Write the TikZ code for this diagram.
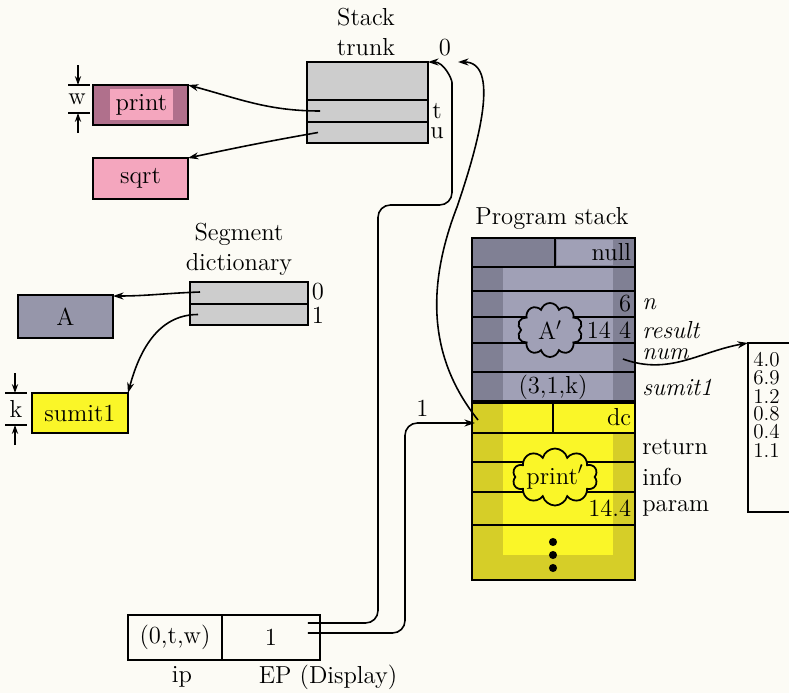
\documentclass[tikz,border=0pt]{standalone}
\usepackage{tikz}
\usetikzlibrary{arrows.meta,shapes.symbols}
\definecolor{Paper}{RGB}{252,251,245}
\definecolor{TrunkGray}{RGB}{205,205,205}
\definecolor{PinkLight}{RGB}{244,166,190}
\definecolor{PinkDark}{RGB}{176,112,140}
\definecolor{SlateGray}{RGB}{150,150,170}
\definecolor{StackDark}{RGB}{128,128,148}
\definecolor{StackLight}{RGB}{160,160,182}
\definecolor{YellowDark}{RGB}{214,206,40}
\definecolor{YellowLight}{RGB}{250,246,40}

\begin{document}
\begin{tikzpicture}[x=0.02cm, y=-0.02cm,
      every node/.style={font=\fontsize{14}{17}\selectfont, align=center},
      cell/.style={rectangle, draw, line width=1pt, inner sep=0pt, outer sep=0pt},
      pointer/.style={-{Stealth[length=6pt,width=4pt]}, line width=0.9pt},
      dimarrow/.style={-{Stealth[length=5pt,width=3.5pt]}, line width=0.7pt},
      blob/.style={cloud, cloud puffs=10, cloud ignores aspect, draw, line width=1pt, inner sep=0pt},
      side/.style={anchor=west, inner sep=1pt},
      inval/.style={anchor=east, inner sep=2pt},
      slot/.style={inner sep=1pt}
    ]
      \clip (0,0) rectangle (789,693);
      \fill[Paper] (0,0) rectangle (789,693);

      % Stack trunk
      \node (trlabel) at (366,32) {Stack\\trunk};
      \node[cell, fill=TrunkGray, minimum width=2.42cm, minimum height=0.76cm] (tr0) at (367.5,81) {};
      \node[cell, fill=TrunkGray, minimum width=2.42cm, minimum height=0.44cm] (trt) at (367.5,111) {};
      \node[cell, fill=TrunkGray, minimum width=2.42cm, minimum height=0.42cm] (tru) at (367.5,132.5) {};
      \draw[line width=1.4pt] (tr0.north west) rectangle (tru.south east);
      \node[slot] (trzero) at (445,48) {0};
      \node[slot] (trtlbl) at (437,111) {t};
      \node[slot] (trulbl) at (437,133) {u};
      \coordinate (trin) at (458,62);

      % Procedure boxes
      \node[cell, fill=PinkDark, minimum width=1.9cm, minimum height=0.8cm] (print) at (140.5,105) {};
      \node[fill=PinkLight, inner sep=0pt, minimum width=1.26cm, minimum height=0.62cm] (printtxt) at (141.5,104.5) {print};
      \node[cell, fill=PinkLight, minimum width=1.9cm, minimum height=0.82cm] (sqrt) at (140.5,178.5) {sqrt};

      % w marker
      \draw[line width=0.7pt] (68,85) -- (90,85) (68,113) -- (90,113);
      \draw[dimarrow] (78,65) -- (78,85);
      \draw[dimarrow] (78,133) -- (78,113);
      \node[slot] (wlbl) at (77,99) {w};

      % Segment dictionary
      \node (sdlabel) at (239,249) {Segment\\dictionary};
      \node[cell, fill=TrunkGray, minimum width=2.36cm, minimum height=0.44cm] (sd0) at (249,293) {};
      \node[cell, fill=TrunkGray, minimum width=2.36cm, minimum height=0.42cm] (sd1) at (249,314.5) {};
      \draw[line width=1.4pt] (sd0.north west) rectangle (sd1.south east);
      \node[slot] (sdzero) at (318,292) {0};
      \node[slot] (sdone) at (318,315) {1};
      \node[cell, fill=SlateGray, minimum width=1.9cm, minimum height=0.86cm] (segA) at (65.5,316.5) {A};
      \node[cell, fill=YellowLight, minimum width=1.92cm, minimum height=0.8cm] (sumit) at (80,413) {sumit1};

      % k marker
      \draw[line width=0.7pt] (5,393) -- (27,393) (5,425) -- (27,425);
      \draw[dimarrow] (15,373) -- (15,393);
      \draw[dimarrow] (15,445) -- (15,425);
      \node[slot] (klbl) at (16,409) {k};

      % Program stack
      \node (pslabel) at (552,218) {Program stack};
      \fill[StackDark] (472,238) rectangle (635,402);
      \fill[StackLight] (503,267) rectangle (613,400);
      \fill[StackLight] (557,240) rectangle (613,265);
      \fill[YellowDark] (472,402) rectangle (635,580);
      \fill[YellowLight] (503,404) rectangle (613,555);
      \fill[YellowLight] (553,404) rectangle (635,433);
      \foreach \n/\c/\h in {0/252.5/0.58, 1/279/0.48, 2/304/0.52, 3/330/0.52, 4/357.5/0.58, 5/387/0.60,
                            6/417.5/0.62, 7/447.5/0.58, 8/477/0.60, 9/508.5/0.66, 10/552.5/1.10}
        \node[cell, minimum width=3.26cm, minimum height=\h cm] (ps\n) at (553.5,\c) {};
      \draw[line width=1pt] (555,238) -- (555,267);
      \draw[line width=1pt] (553,402) -- (553,433);
      \draw[line width=1.8pt] (ps5.south west) -- (ps5.south east);
      \draw[line width=1.4pt] (ps0.north west) rectangle (ps10.south east);

      % Frames
      \node[blob, fill=StackLight, minimum width=1.3cm, minimum height=1.08cm] (aprime) at (550,330) {A$'$};
      \node[blob, fill=YellowLight, minimum width=1.5cm, minimum height=1.14cm] (printprime) at (555,477) {print$'$};

      % Cell contents
      \node[inval] at (ps0.east) {null};
      \node[inval] at (ps2.east) {6};
      \node[inval] at (ps3.east) {14 4};
      \node (skey) at (553,387) {(3,1,k)};
      \node[inval] at (ps6.east) {dc};
      \node[inval] at (ps9.east) {14.4};
      \foreach \y in {542,555,568}
        \fill (553,\y) circle (2.3pt);

      % Row names
      \node[side] at ([xshift=3pt]ps2.east) {\itshape n};
      \node[side] at ([xshift=3pt]ps3.east) {\itshape result};
      \node[side] at ([xshift=3pt,yshift=2pt]ps4.east) {\itshape num};
      \node[side] at ([xshift=3pt]ps5.east) {\itshape sumit1};
      \node[side] at ([xshift=3pt]ps7.east) {return};
      \node[side] at ([xshift=3pt]ps8.east) {info};
      \node[side] at ([xshift=3pt]ps9.east) {param};

      % Array
      \node[cell, anchor=north west, minimum width=2cm, minimum height=3.38cm] (arr) at (748,343) {};
      \foreach \v [count=\i from 0] in {4.0,6.9,1.2,0.8,0.4,1.1}
        \node[anchor=west, inner sep=0pt, font=\fontsize{12}{12}\selectfont] (val\i) at (753,360+18*\i) {\v};

      % Display
      \node[cell, minimum width=1.88cm, minimum height=0.9cm] (ip) at (175,637.5) {(0,t,w)};
      \node[cell, minimum width=1.96cm, minimum height=0.9cm] (ep) at (271,637.5) {1};
      \node (iplbl) at (182,677) {ip};
      \node (eplbl) at (328,677) {EP (Display)};

      % Pointers
      \draw[pointer] ([xshift=0.26cm]trt.west) to[out=180, in=-15] (print.north east);
      \draw[pointer] ([xshift=0.22cm]tru.west) to[out=190, in=12] (sqrt.north east);
      \draw[pointer] ([xshift=0.2cm,yshift=0.02cm]sd0.west) to[out=182, in=0] ([yshift=-0.02cm]segA.north east);
      \draw[pointer] ([xshift=0.16cm]sd1.west) to[out=180, in=75] (sumit.north east);
      \draw[pointer] ([xshift=-0.24cm,yshift=-0.03cm]ps4.east) to[out=-20, in=190] (arr.north west);

      % Display links
      \draw[pointer, rounded corners=7pt] ([xshift=-0.24cm,yshift=0.29cm]ep.east) -- (378,623) -- (378,205)
            -- (452,205) -- (452,95) to[out=90, in=0] (tr0.north east);
      \draw[pointer, rounded corners=7pt] ([xshift=-0.24cm,yshift=0.09cm]ep.east) -- (405,633) -- (405,423)
            -- node[above, pos=0.25] {1} ([xshift=0.06cm,yshift=-0.11cm]ps6.west);
      \draw[pointer] ([xshift=0.12cm,yshift=-0.05cm]ps6.west) .. controls (430,360) and (425,290) .. (457,207)
            .. controls (480,140) and (500,62) .. (trin);
    \end{tikzpicture}
\end{document}
